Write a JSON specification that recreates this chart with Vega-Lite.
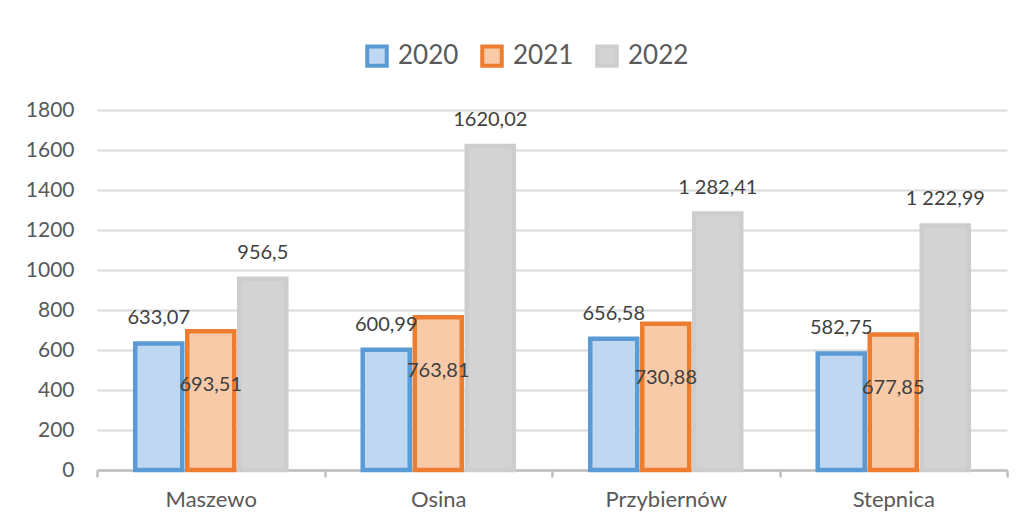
{
  "$schema": "https://vega.github.io/schema/vega-lite/v6.json",
  "width": 910,
  "height": 360,
  "autosize": {"type": "none"},
  "padding": {"left": 97, "top": 110, "right": 19, "bottom": 55},
  "background": "white",
  "data": {
    "values": [
      {"gmina": "Maszewo", "year": "2020", "value": 633.07, "label": "633,07"},
      {"gmina": "Maszewo", "year": "2021", "value": 693.51, "label": "693,51"},
      {"gmina": "Maszewo", "year": "2022", "value": 956.5, "label": "956,5"},
      {"gmina": "Osina", "year": "2020", "value": 600.99, "label": "600,99"},
      {"gmina": "Osina", "year": "2021", "value": 763.81, "label": "763,81"},
      {"gmina": "Osina", "year": "2022", "value": 1620.02, "label": "1620,02"},
      {"gmina": "Przybiernów", "year": "2020", "value": 656.58, "label": "656,58"},
      {"gmina": "Przybiernów", "year": "2021", "value": 730.88, "label": "730,88"},
      {"gmina": "Przybiernów", "year": "2022", "value": 1282.41, "label": "1 282,41"},
      {"gmina": "Stepnica", "year": "2020", "value": 582.75, "label": "582,75"},
      {"gmina": "Stepnica", "year": "2021", "value": 677.85, "label": "677,85"},
      {"gmina": "Stepnica", "year": "2022", "value": 1222.99, "label": "1 222,99"}
    ]
  },
  "encoding": {
    "x": {
      "field": "gmina", "type": "nominal", "sort": null,
      "scale": {"paddingInner": 0, "paddingOuter": 0},
      "axis": {
        "title": null, "labelAngle": 0, "tickBand": "extent",
        "domainColor": "#bfbfbf", "domainWidth": 2.5,
        "tickColor": "#bfbfbf", "tickWidth": 2.5, "tickSize": 7,
        "labelFont": "Lato", "labelFontSize": 22, "labelColor": "#595959",
        "labelPadding": 12, "grid": false
      }
    },
    "xOffset": {
      "field": "year", "type": "nominal",
      "scale": {"paddingInner": 0.096, "paddingOuter": 0.735}
    },
    "y": {
      "field": "value", "type": "quantitative",
      "scale": {"domain": [0, 1800], "nice": false},
      "axis": {
        "title": null, "values": [0, 200, 400, 600, 800, 1000, 1200, 1400, 1600, 1800],
        "format": "d",
        "domain": false, "ticks": false, "labelPadding": 23,
        "gridColor": "#d9d9d9", "gridWidth": 2,
        "labelFont": "Lato", "labelFontSize": 21, "labelColor": "#595959"
      }
    }
  },
  "layer": [
    {
      "mark": {"type": "bar", "strokeWidth": 4.5},
      "encoding": {
        "fill": {
          "field": "year", "type": "nominal",
          "scale": {"domain": ["2020", "2021", "2022"], "range": ["#bfd7f0", "#f9caa8", "#d3d3d3"]},
          "legend": {
            "title": null, "orient": "none", "legendX": 267, "legendY": -67,
            "direction": "horizontal", "symbolType": "square", "symbolSize": 380,
            "symbolStrokeWidth": 4, "labelFont": "Lato", "labelFontSize": 26,
            "labelColor": "#595959", "labelOffset": 8, "columnPadding": 15
          }
        },
        "stroke": {
          "field": "year", "type": "nominal",
          "scale": {"domain": ["2020", "2021", "2022"], "range": ["#5b9bd5", "#ed7d31", "#cdcdcd"]},
          "legend": {
            "title": null, "orient": "none", "legendX": 267, "legendY": -67,
            "direction": "horizontal", "symbolType": "square", "symbolSize": 380,
            "symbolStrokeWidth": 4, "labelFont": "Lato", "labelFontSize": 26,
            "labelColor": "#595959", "labelOffset": 8, "columnPadding": 15
          }
        }
      }
    },
    {
      "transform": [{"filter": "datum.year === '2020'"}],
      "mark": {"type": "text", "dy": -25, "baseline": "middle", "font": "Lato", "fontSize": 20, "color": "#404040"},
      "encoding": {"text": {"field": "label"}}
    },
    {
      "transform": [{"filter": "datum.year === '2021'"}],
      "mark": {"type": "text", "dy": 54, "baseline": "middle", "font": "Lato", "fontSize": 20, "color": "#404040"},
      "encoding": {"text": {"field": "label"}}
    },
    {
      "transform": [{"filter": "datum.year === '2022'"}],
      "mark": {"type": "text", "dy": -26, "baseline": "middle", "font": "Lato", "fontSize": 20, "color": "#404040"},
      "encoding": {"text": {"field": "label"}}
    }
  ],
  "config": {"view": {"stroke": null}}
}
